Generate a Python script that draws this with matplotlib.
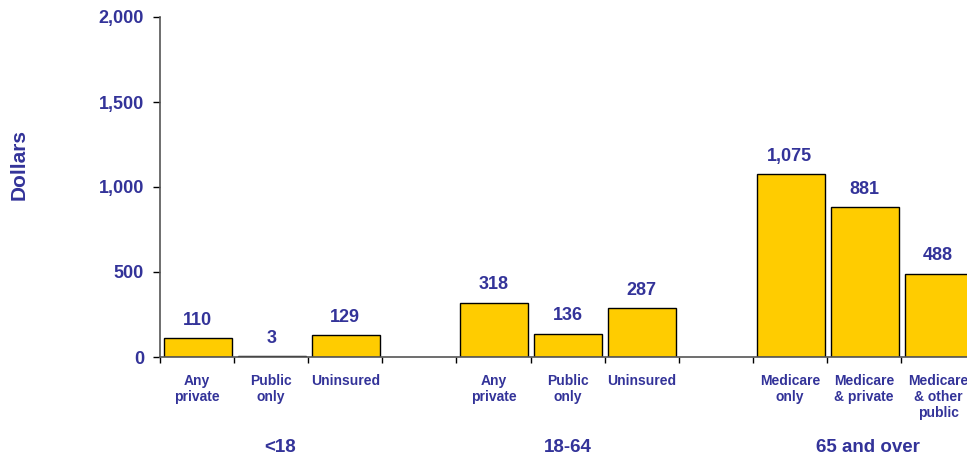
import matplotlib
matplotlib.use("Agg")
import matplotlib.pyplot as plt
import numpy as np

# Per-capita spending by age group and insurance status
categories = ["Any\nprivate", "Public\nonly", "Uninsured", "",
              "Any\nprivate", "Public\nonly", "Uninsured", "",
              "Medicare\nonly", "Medicare\n& private", "Medicare\n& other\npublic"]
values = [110, 3, 129, None, 318, 136, 287, None, 1075, 881, 488]
groups = ["<18", "18-64", "65 and over"]
group_slots = [1.12, 5, 9.05]  # where each group name sits under its bars
yticks = [0, 500, 1000, 1500, 2000]

navy = "#333399"
bar_color = "#FFCC00"
plt.rcParams["font.family"] = ["Liberation Sans", "DejaVu Sans"]
plt.rcParams["font.weight"] = "bold"

fig = plt.figure(figsize=(9.67, 4.59), dpi=100)
ax = fig.add_axes([160 / 967, 102 / 459, 807 / 967, 340 / 459])

x = np.arange(len(categories))
for xi, v in zip(x, values):
    if v is None:
        continue
    ax.bar(xi + 0.01, v, width=0.92, color=bar_color, edgecolor="black", linewidth=1, zorder=2)
    ax.annotate(f"{v:,}", (xi, v), xytext=(0, 13), textcoords="offset points",
                ha="center", va="center", fontsize=13, color=navy, fontweight="bold")

# y axis
ax.set_yticks(yticks)
ax.set_yticklabels([f"{t:,}" for t in yticks])
ax.tick_params(axis="y", length=5, width=1, color="black", pad=6.5,
               labelsize=13, labelcolor=navy)

# x axis: labels at bar centres, small ticks between slots
ax.set_xticks(x)
ax.set_xticklabels(categories, fontsize=10, color=navy, fontweight="bold")
ax.set_xticks(np.arange(len(categories) + 1) - 0.5, minor=True)
ax.tick_params(axis="x", which="major", length=0, pad=12)
ax.tick_params(axis="x", which="minor", length=4, width=1, color="black")

# limits after the ticks, so set_xticks cannot widen them; last bar runs off the edge
ax.set_xlim(-0.5, -0.5 + 807 / 74.1)
ax.set_ylim(0, 2000)

for s in ["top", "right"]:
    ax.spines[s].set_visible(False)
for s in ["left", "bottom"]:
    ax.spines[s].set_color("#555555")
    ax.spines[s].set_linewidth(1.2)

for g, gx in zip(groups, group_slots):
    ax.text(gx, -0.265, g, transform=ax.get_xaxis_transform(), ha="center", va="center",
            fontsize=13.5, color=navy, fontweight="bold")

fig.text(19 / 967, 1 - 164 / 459, "Dollars", rotation=90, ha="center", va="center",
         fontsize=15, color=navy, fontweight="bold")

fig.savefig("out.png", dpi=100)
